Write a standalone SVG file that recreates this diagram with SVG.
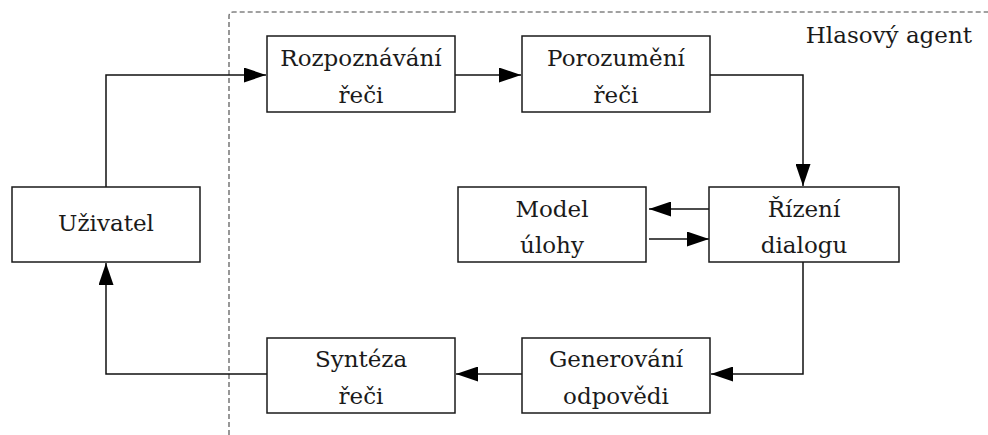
<svg xmlns="http://www.w3.org/2000/svg" width="988" height="435" viewBox="0 0 988 435">
  <style>
    .box { fill: #fff; stroke: #1a1a1a; stroke-width: 1.5; }
    .lbl { font-family: "DejaVu Serif", serif; font-size: 23px; fill: #1a1a1a; text-anchor: middle; }
    .wire { fill: none; stroke: #111; stroke-width: 1.5; }
    .frame { fill: none; stroke: #444; stroke-width: 1.1; stroke-dasharray: 5 3; }
  </style>
  <defs>
    <marker id="arrow" markerUnits="userSpaceOnUse" markerWidth="22" markerHeight="15" refX="22" refY="7.5" orient="auto">
      <path d="M0,0 L22,7.5 L0,15 Z" fill="#000"/>
    </marker>
  </defs>
  <rect width="988" height="435" fill="#fff"/>

  <!-- agent boundary -->
  <g id="agent-frame">
    <path class="frame" d="M229,435 V16 Q229,12 233,12 H988"/>
    <text class="lbl" x="972" y="43" style="text-anchor:end">Hlasový agent</text>
  </g>

  <!-- connectors -->
  <g id="connectors">
    <path class="wire" d="M106,187 V75 H266" marker-end="url(#arrow)"/>
    <path class="wire" d="M455,75 H521" marker-end="url(#arrow)"/>
    <path class="wire" d="M710,75 H803 V186" marker-end="url(#arrow)"/>
    <path class="wire" d="M712,209 H649" marker-end="url(#arrow)"/>
    <path class="wire" d="M649,239 H709" marker-end="url(#arrow)"/>
    <path class="wire" d="M803,262 V374 H711" marker-end="url(#arrow)"/>
    <path class="wire" d="M522,374 H456" marker-end="url(#arrow)"/>
    <path class="wire" d="M267,374 H106 V263" marker-end="url(#arrow)"/>
  </g>

  <g id="uzivatel">
    <rect class="box" x="12" y="187" width="188" height="75"/>
    <text class="lbl" x="106" y="231">Uživatel</text>
  </g>
  <g id="rozpoznavani">
    <rect class="box" x="267" y="36" width="188" height="76"/>
    <text class="lbl" x="361" y="66">Rozpoznávání</text>
    <text class="lbl" x="361" y="103">řeči</text>
  </g>
  <g id="porozumeni">
    <rect class="box" x="522" y="36" width="188" height="76"/>
    <text class="lbl" x="616" y="66">Porozumění</text>
    <text class="lbl" x="616" y="103">řeči</text>
  </g>
  <g id="model">
    <rect class="box" x="458" y="187" width="188" height="75"/>
    <text class="lbl" x="552" y="217">Model</text>
    <text class="lbl" x="552" y="253">úlohy</text>
  </g>
  <g id="rizeni">
    <rect class="box" x="709" y="187" width="190" height="75"/>
    <text class="lbl" x="804" y="217">Řízení</text>
    <text class="lbl" x="804" y="253">dialogu</text>
  </g>
  <g id="generovani">
    <rect class="box" x="522" y="338" width="188" height="75"/>
    <text class="lbl" x="616" y="367">Generování</text>
    <text class="lbl" x="616" y="404">odpovědi</text>
  </g>
  <g id="synteza">
    <rect class="box" x="267" y="338" width="188" height="75"/>
    <text class="lbl" x="361" y="367">Syntéza</text>
    <text class="lbl" x="361" y="404">řeči</text>
  </g>
</svg>
